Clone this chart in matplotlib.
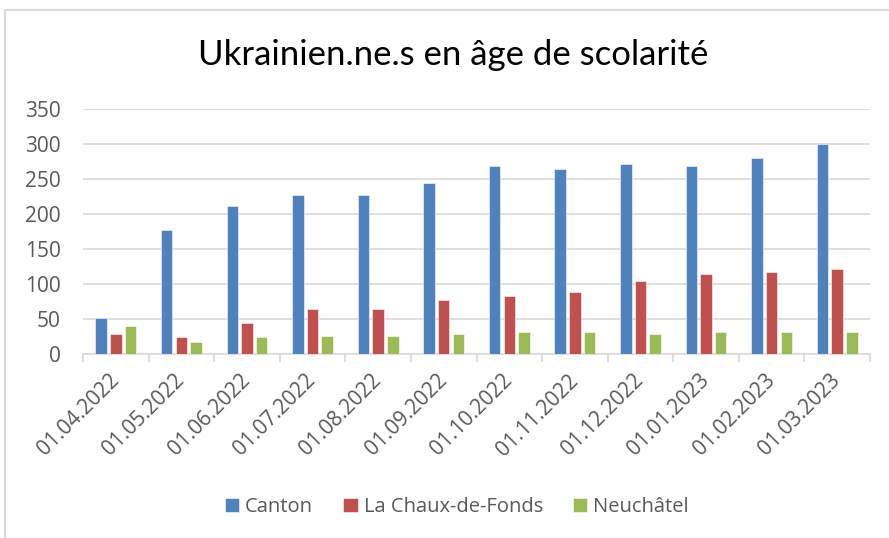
import matplotlib
matplotlib.use("Agg")
import matplotlib.pyplot as plt
import numpy as np
from matplotlib.patches import Rectangle

categories = ["01.04.2022", "01.05.2022", "01.06.2022", "01.07.2022", "01.08.2022",
              "01.09.2022", "01.10.2022", "01.11.2022", "01.12.2022", "01.01.2023",
              "01.02.2023", "01.03.2023"]
canton = [52, 177, 212, 227, 227, 244, 269, 264, 271, 269, 280, 300]
chaux = [28, 24, 44, 64, 64, 77, 83, 89, 105, 114, 117, 121]
neuchatel = [40, 17, 24, 26, 26, 28, 31, 32, 28, 31, 32, 32]
series_names = ["Canton", "La Chaux-de-Fonds", "Neuchâtel"]
colors = ["#4F81BD", "#C0504D", "#9BBB59"]

plt.rcParams['font.family'] = ['Open Sans', 'DejaVu Sans']
W, H = 889, 538
fig = plt.figure(figsize=(W/100, H/100), dpi=100)
ax = fig.add_axes([83/W, 1-354/H, (870-83)/W, (354-109)/H])

x = np.arange(len(categories))
bw = 0.175
step = 0.224
for i, (vals, name, c) in enumerate(zip([canton, chaux, neuchatel], series_names, colors)):
    ax.bar(x + (i-1)*step, vals, width=bw, color=c, edgecolor='white', linewidth=0.4, label=name, zorder=3)

ax.set_xlim(-0.5, len(categories)-0.5)
ax.set_ylim(0, 350)
ax.set_yticks(np.arange(0, 351, 50))
ax.yaxis.grid(True, color='#d9d9d9', linewidth=1.2, zorder=0)
for s in ['top', 'right', 'left']:
    ax.spines[s].set_visible(False)
ax.spines['bottom'].set_color('#d9d9d9')
ax.spines['bottom'].set_linewidth(1.2)
ax.tick_params(axis='y', length=0, labelsize=15, labelcolor='#595959', pad=16)
ax.set_xticks(x)
ax.set_xticklabels(categories, rotation=45, ha='right', va='center', rotation_mode='anchor',
                   fontsize=15, color='#595959')
ax.tick_params(axis='x', length=0, pad=17)
ax.set_xticks(np.arange(-0.5, len(categories)), minor=True)
ax.tick_params(axis='x', which='minor', length=6, color='#d9d9d9', width=1.2)

fig.text(453/W, 1-55/H, "Ukrainien.ne.s en âge de scolarité", ha='center', va='center',
         fontsize=25, color='black', family=['Lato', 'DejaVu Sans'])

leg = fig.legend(loc='center', bbox_to_anchor=(457/W, 1-507/H), ncol=3, frameon=False,
                 fontsize=14.5, handlelength=0.7, handleheight=0.7, handletextpad=0.3,
                 columnspacing=1.5)
for t in leg.get_texts():
    t.set_color('#595959')

fig.patches.append(Rectangle((5/W, -0.05), 1.1, 1.05 - 10/H, transform=fig.transFigure,
                             fill=False, edgecolor='#d9d9d9', linewidth=1.5, clip_on=False))

fig.savefig("out.png", dpi=100)
